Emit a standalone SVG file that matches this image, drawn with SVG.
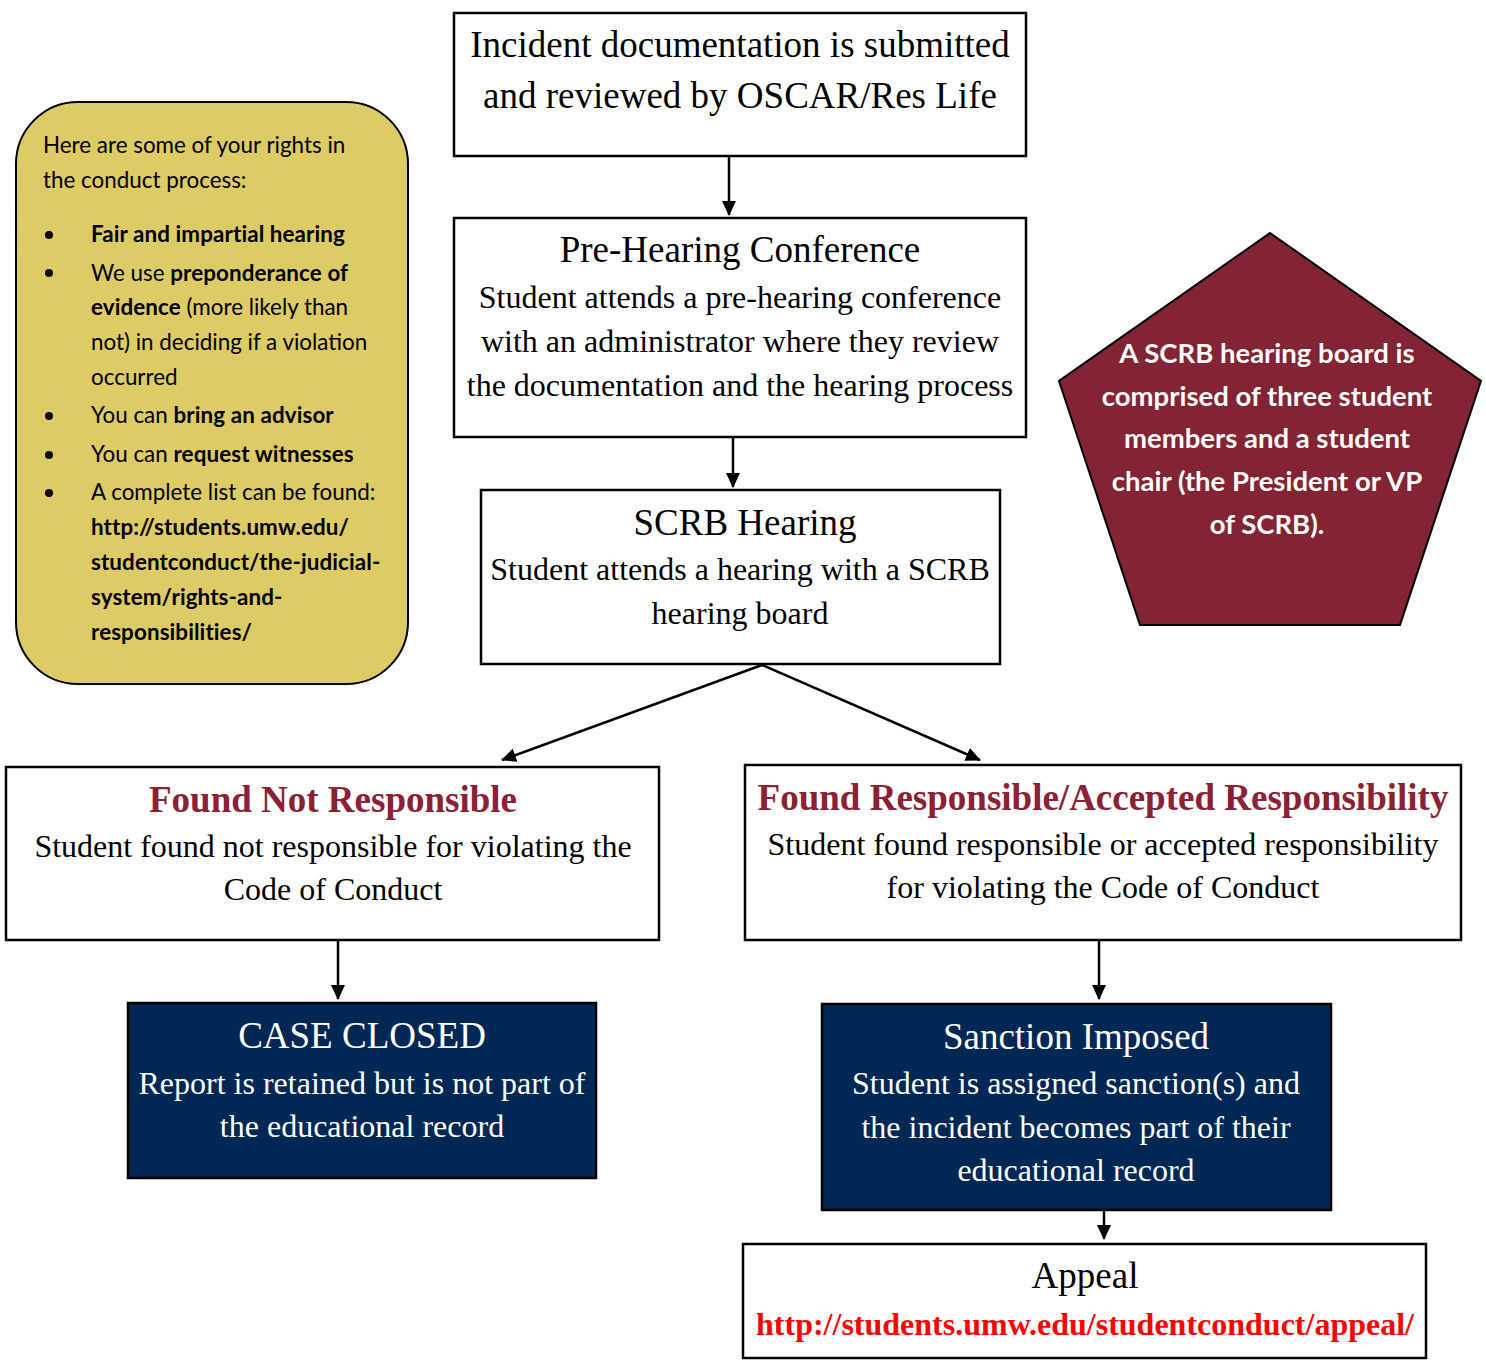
<svg xmlns="http://www.w3.org/2000/svg" width="1486" height="1363" viewBox="0 0 1486 1363">
<defs>
<marker id="ah" markerWidth="15" markerHeight="14" refX="14" refY="7" orient="auto" markerUnits="userSpaceOnUse" viewBox="0 0 15 14">
<path d="M0,0 L15,7 L0,14 z" fill="#000"/>
</marker>
<style>
.box{fill:#fff;stroke:#000;stroke-width:2.5}
.navy{fill:#002855;stroke:#000;stroke-width:2.5}
.serif{font-family:"Liberation Serif","Times New Roman",serif;text-anchor:middle}
.t36{font-size:37px}
.t30{font-size:32px}
.red{fill:#8B2134;font-weight:bold}
.w{fill:#fff}
.sans{font-family:Lato,"Open Sans","Liberation Sans",sans-serif;font-size:22.4px;fill:#000}
.b{font-weight:bold;letter-spacing:0.1px}
.pent{font-family:Lato,"Open Sans","Liberation Sans",sans-serif;font-size:27.5px;font-weight:bold;fill:#fff;text-anchor:middle}
.conn{stroke:#000;stroke-width:2.5;fill:none;marker-end:url(#ah)}
</style>
</defs>
<rect width="1486" height="1363" fill="#fff"/>

<g id="connectors">
<line class="conn" x1="729" y1="156" x2="729" y2="215"/>
<line class="conn" x1="733" y1="437" x2="733" y2="487"/>
<line class="conn" x1="762" y1="665" x2="502" y2="760"/>
<line class="conn" x1="762" y1="665" x2="980" y2="760"/>
<line class="conn" x1="338" y1="940" x2="338" y2="999"/>
<line class="conn" x1="1099" y1="940" x2="1099" y2="999"/>
<line class="conn" x1="1104" y1="1210" x2="1104" y2="1239"/>
</g>

<g id="rights">
<rect x="16" y="102" width="392" height="582" rx="62" ry="62" fill="#DDCB66" stroke="#000" stroke-width="2"/>
<text class="sans" x="43" y="153">Here are some of your rights in</text>
<text class="sans" x="43" y="188">the conduct process:</text>
<g fill="#000">
<circle cx="49" cy="235" r="4"/>
<circle cx="49" cy="273" r="4"/>
<circle cx="49" cy="416" r="4"/>
<circle cx="49" cy="455" r="4"/>
<circle cx="49" cy="493" r="4"/>
</g>
<text class="sans b" x="91" y="242">Fair and impartial hearing</text>
<text class="sans" x="91" y="281">We use <tspan class="b">preponderance of</tspan></text>
<text class="sans" x="91" y="315"><tspan class="b">evidence</tspan> (more likely than</text>
<text class="sans" x="91" y="350">not) in deciding if a violation</text>
<text class="sans" x="91" y="385">occurred</text>
<text class="sans" x="91" y="423">You can <tspan class="b">bring an advisor</tspan></text>
<text class="sans" x="91" y="462">You can <tspan class="b">request witnesses</tspan></text>
<text class="sans" x="91" y="500">A complete list can be found:</text>
<text class="sans b" x="91" y="535">http://students.umw.edu/</text>
<text class="sans b" x="91" y="570">studentconduct/the-judicial-</text>
<text class="sans b" x="91" y="605">system/rights-and-</text>
<text class="sans b" x="91" y="640">responsibilities/</text>
</g>

<g id="incident">
<rect class="box" x="454" y="13" width="572" height="143"/>
<text class="serif t36" x="740" y="57">Incident documentation is submitted</text>
<text class="serif t36" x="740" y="108">and reviewed by OSCAR/Res Life</text>
</g>

<g id="prehearing">
<rect class="box" x="454" y="218" width="572" height="219"/>
<text class="serif t36" x="740" y="262">Pre-Hearing Conference</text>
<text class="serif t30" x="740" y="308">Student attends a pre-hearing conference</text>
<text class="serif t30" x="740" y="352">with an administrator where they review</text>
<text class="serif t30" x="740" y="396">the documentation and the hearing process</text>
</g>

<g id="scrb-hearing">
<rect class="box" x="481" y="490" width="519" height="174"/>
<text class="serif t36" x="745" y="535">SCRB Hearing</text>
<text class="serif t30" x="740" y="580">Student attends a hearing with a SCRB</text>
<text class="serif t30" x="740" y="624">hearing board</text>
</g>

<g id="scrb-board">
<polygon points="1270,233 1481,381 1400,625 1140,625 1059,381" fill="#822433" stroke="#000" stroke-width="2"/>
<text class="pent" x="1267" y="363">A SCRB hearing board is</text>
<text class="pent" x="1267" y="406">comprised of three student</text>
<text class="pent" x="1267" y="448">members and a student</text>
<text class="pent" x="1267" y="491">chair (the President or VP</text>
<text class="pent" x="1267" y="534">of SCRB).</text>
</g>

<g id="not-responsible">
<rect class="box" x="6" y="767" width="653" height="173"/>
<text class="serif t36 red" x="333" y="812">Found Not Responsible</text>
<text class="serif t30" x="333" y="857">Student found not responsible for violating the</text>
<text class="serif t30" x="333" y="900">Code of Conduct</text>
</g>

<g id="responsible">
<rect class="box" x="745" y="765" width="716" height="175"/>
<text class="serif t36 red" x="1103" y="810">Found Responsible/Accepted Responsibility</text>
<text class="serif t30" x="1103" y="855">Student found responsible or accepted responsibility</text>
<text class="serif t30" x="1103" y="898">for violating the Code of Conduct</text>
</g>

<g id="case-closed">
<rect class="navy" x="128" y="1003" width="468" height="175"/>
<text class="serif t36 w" x="362" y="1048">CASE CLOSED</text>
<text class="serif t30 w" x="362" y="1094">Report is retained but is not part of</text>
<text class="serif t30 w" x="362" y="1137">the educational record</text>
</g>

<g id="sanction">
<rect class="navy" x="822" y="1004" width="509" height="206"/>
<text class="serif t36 w" x="1076" y="1049">Sanction Imposed</text>
<text class="serif t30 w" x="1076" y="1094">Student is assigned sanction(s) and</text>
<text class="serif t30 w" x="1076" y="1138">the incident becomes part of their</text>
<text class="serif t30 w" x="1076" y="1181">educational record</text>
</g>

<g id="appeal">
<rect class="box" x="743" y="1244" width="683" height="114"/>
<text class="serif t36" x="1085" y="1288">Appeal</text>
<text class="serif t30" x="1085" y="1335" fill="#FF0000" font-weight="bold">http://students.umw.edu/studentconduct/appeal/</text>
</g>
</svg>
